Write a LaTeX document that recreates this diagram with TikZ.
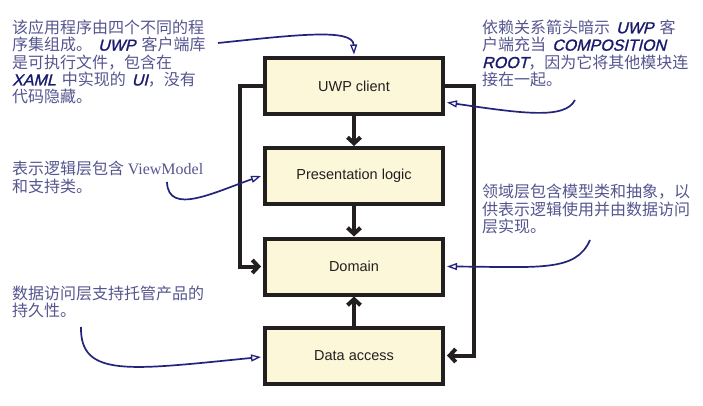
\documentclass[tikz,border=0pt]{standalone}
\usepackage{fontspec}
\setmainfont{Liberation Sans}
\newfontfamily\cjk{Noto Sans CJK SC}
\newfontfamily\comic{Liberation Sans}[FakeSlant=0.25,FakeBold=1.2]
\newfontfamily\vmfont{Liberation Serif}
\usetikzlibrary{arrows.meta}
\definecolor{boxfill}{HTML}{FDF7DA}
\definecolor{boxline}{HTML}{231F20}
\definecolor{notecol}{HTML}{55558F}
\definecolor{arrowcol}{HTML}{23237D}
\definecolor{kwcol}{HTML}{1A1A6E}
\newcommand\kw[1]{{\comic\color{kwcol}#1}}
\newcommand\gap{\hspace{6pt}}
\tikzset{
  layer/.style={draw=boxline, line width=4pt, fill=boxfill, minimum width=178pt, minimum height=56pt,
    font=\fontsize{14.5}{16}\selectfont, text=boxline},
  dep/.style={draw=boxline, line width=4pt, -{Straight Barb[length=6pt,width=13pt]}},
  note/.style={font=\cjk\fontsize{16}{17.4}\selectfont, text=notecol, align=left, inner sep=0pt, anchor=north west},
  callout/.style={draw=arrowcol, line width=1.7pt, -{Triangle[open, length=10pt, width=7pt, line width=1.3pt]}}
}
\begin{document}
\begin{tikzpicture}[x=1pt, y=-1pt]
\useasboundingbox (0,0) rectangle (703,406);
% layers
\node[layer] (uwp) at (354,86.5) {UWP client};
\node[layer] (pres) at (354,176) {Presentation logic};
\node[layer] (dom) at (354,266.5) {Domain};
\node[layer] (data) at (354,355.5) {Data access};
\coordinate (lx) at (240,0);
\coordinate (rx) at (474,0);
% dependencies
\draw[dep] (uwp.south) -- (pres.north);
\draw[dep] (pres.south) -- (dom.north);
\draw[dep] (data.north) -- (dom.south);
\draw[dep, line join=miter] (uwp.west) -- (uwp.west -| lx) |- ([xshift=-2pt]dom.west);
\draw[dep, line join=miter] (uwp.east) -- (uwp.east -| rx) |- ([xshift=2pt]data.east);
% notes
\node[note] (n1) at (12,19.5) {该应用程序由四个不同的程\\序集组成。\gap\kw{UWP}\gap 客户端库\\是可执行文件，包含在\\\kw{XAML}\gap 中实现的\gap\kw{UI}，没有\\代码隐藏。};
\node[note] (n2) at (482,19.5) {依赖关系箭头暗示\gap\kw{UWP}\gap 客\\户端充当\gap\kw{COMPOSITION}\\\kw{ROOT}，因为它将其他模块连\\接在一起。};
\node[note] (n3) at (12,161) {表示逻辑层包含 {\vmfont ViewModel}\\和支持类。};
\node[note] (n4) at (482,184) {领域层包含模型类和抽象，以\\供表示逻辑使用并由数据访问\\层实现。};
\node[note] (n5) at (12,285.5) {数据访问层支持托管产品的\\持久性。};
% callout start points
\coordinate (s1) at (218,43);
\coordinate (s2) at (575,100);
\coordinate (s3) at (167,182);
\coordinate (s4) at (590,240);
\coordinate (s5) at (81,327);
\draw[callout] (s1) .. controls (295,35) and (353,28) .. ([yshift=2pt]uwp.north);
\draw[callout] (s2) .. controls (565,120) and (520,113) .. ([xshift=2pt,yshift=-16pt]uwp.east);
\draw[callout] (s3) .. controls (168,216) and (215,192) .. ([xshift=-2pt]pres.west);
\draw[callout] (s4) .. controls (576,272) and (540,267) .. ([xshift=2pt]dom.east);
\draw[callout] (s5) .. controls (80,378) and (130,370) .. ([xshift=-2pt,yshift=-1.5pt]data.west);
\end{tikzpicture}
\end{document}
